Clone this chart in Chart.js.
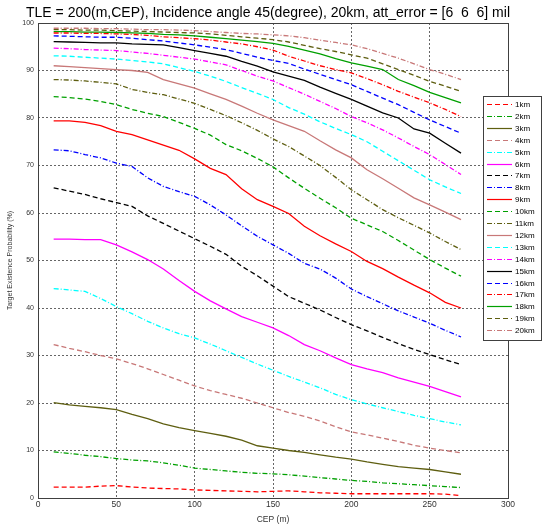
<!DOCTYPE html>
<html>
<head>
<meta charset="utf-8">
<script src="https://cdn.jsdelivr.net/npm/chart.js@4.4.0/dist/chart.umd.min.js"></script>
<style>
  html, body { margin: 0; padding: 0; background: #fff; }
  #wrap { width: 542px; height: 526px; }
</style>
</head>
<body>
<div id="wrap"><canvas id="chart" width="542" height="526"></canvas></div>
<script>
// Заголовок и оси
const titleText = 'TLE = 200(m,CEP), Incidence angle 45(degree), 20km, att_error = [6  6  6] mil';
const xTitle = 'CEP (m)';
const yTitle = 'Target Existence Probability (%)';
const xTicks = [0, 50, 100, 150, 200, 250, 300];
const yTicks = [0, 10, 20, 30, 40, 50, 60, 70, 80, 90, 100];

// Значения CEP (м)
const cep = [10, 20, 30, 40, 50, 60, 70, 80, 90, 100, 110, 120, 130, 140, 150, 160, 170, 180, 190, 200, 210, 220, 230, 240, 250, 260, 270];

// Вероятности по дальностям (%)
const p1km  = [2.3, 2.3, 2.3, 2.5, 2.6, 2.3, 2.1, 2.0, 1.9, 1.7, 1.6, 1.5, 1.4, 1.3, 1.4, 1.5, 1.3, 1.1, 1.0, 0.9, 0.9, 0.9, 0.9, 0.9, 0.9, 0.8, 0.5];
const p2km  = [9.7, 9.4, 9.0, 8.7, 8.3, 8.0, 7.8, 7.4, 6.9, 6.3, 6.0, 5.7, 5.4, 5.2, 5.1, 4.9, 4.6, 4.3, 4.0, 3.7, 3.5, 3.2, 3.0, 2.8, 2.6, 2.4, 2.2];
const p3km  = [20.1, 19.6, 19.3, 19.0, 18.6, 17.6, 16.7, 15.6, 14.8, 14.2, 13.6, 13.0, 12.2, 11.0, 10.5, 10.0, 9.6, 9.1, 8.6, 8.2, 7.6, 7.1, 6.6, 6.3, 6.0, 5.5, 5.0];
const p4km  = [32.3, 31.5, 30.8, 30.0, 29.3, 28.3, 27.2, 26.0, 24.8, 23.6, 22.6, 21.8, 21.0, 20.0, 19.0, 18.0, 17.2, 16.2, 15.0, 13.9, 13.3, 12.6, 11.9, 11.1, 10.5, 10.0, 9.5];
const p5km  = [44.1, 43.8, 43.5, 42.0, 40.3, 38.8, 37.2, 35.8, 34.6, 33.7, 32.4, 31.0, 29.6, 28.2, 26.9, 25.6, 24.4, 23.2, 21.8, 20.7, 19.8, 19.0, 18.2, 17.4, 16.7, 16.0, 15.4];
const p6km  = [54.5, 54.5, 54.4, 54.4, 53.3, 51.8, 50.2, 48.2, 45.8, 43.5, 41.5, 39.8, 38.2, 37.0, 35.8, 34.2, 32.3, 31.0, 29.5, 28.1, 27.2, 26.4, 25.3, 24.4, 23.5, 22.4, 21.3];
const p7km  = [65.3, 64.6, 63.9, 63.0, 62.2, 61.4, 59.4, 57.8, 56.2, 54.6, 53.0, 51.3, 48.8, 46.8, 44.6, 42.4, 41.0, 39.6, 38.0, 36.5, 35.2, 33.8, 32.5, 31.3, 30.2, 29.1, 28.1];
const p8km  = [73.3, 73.1, 72.3, 71.6, 70.5, 69.8, 67.4, 65.6, 64.5, 63.5, 61.7, 59.6, 57.3, 55.1, 53.3, 51.5, 49.4, 48.2, 46.3, 44.0, 42.4, 40.9, 39.4, 38.1, 36.8, 35.3, 33.9];
const p9km  = [79.4, 79.4, 79.1, 78.4, 77.2, 76.5, 75.4, 74.3, 73.2, 71.4, 69.4, 68.1, 65.1, 62.8, 61.4, 59.9, 57.2, 55.2, 53.5, 51.9, 49.8, 48.3, 46.5, 44.8, 43.2, 41.2, 40.0];
const p10km = [84.5, 84.3, 84.0, 83.5, 82.8, 81.8, 81.0, 80.3, 79.1, 77.8, 76.4, 74.4, 73.1, 71.5, 69.7, 67.4, 65.2, 63.1, 61.1, 58.9, 57.5, 56.1, 54.2, 52.2, 50.2, 48.4, 46.7];
const p11km = [88.1, 88.0, 87.8, 87.5, 87.2, 86.0, 85.4, 84.9, 84.0, 83.1, 81.8, 80.5, 79.0, 77.4, 75.6, 74.0, 72.0, 70.0, 67.5, 64.9, 62.8, 60.7, 59.0, 57.4, 55.8, 54.0, 52.3];
const p12km = [91.0, 90.8, 90.6, 90.4, 90.2, 90.0, 89.6, 88.1, 87.2, 86.3, 85.1, 83.9, 82.5, 81.0, 79.6, 78.4, 77.2, 75.2, 73.3, 71.6, 69.1, 67.2, 65.2, 63.2, 61.7, 60.2, 58.6];
const p13km = [93.1, 93.0, 92.8, 92.6, 92.4, 92.1, 91.8, 91.4, 90.6, 89.8, 88.8, 87.7, 86.4, 85.2, 83.9, 82.2, 80.8, 79.2, 77.8, 76.5, 75.0, 73.0, 71.0, 69.0, 67.0, 65.5, 64.1];
const p14km = [94.7, 94.6, 94.4, 94.3, 94.2, 93.9, 93.6, 93.2, 92.8, 92.4, 91.8, 91.2, 90.0, 88.8, 87.8, 86.4, 85.0, 83.5, 82.0, 80.3, 79.0, 77.5, 75.8, 74.0, 72.3, 70.2, 68.1];
const p15km = [96.1, 96.0, 95.9, 95.8, 95.8, 95.6, 95.5, 95.4, 94.8, 94.2, 93.6, 93.0, 91.9, 90.9, 89.7, 88.8, 87.9, 86.5, 85.2, 83.9, 82.5, 81.1, 80.0, 77.7, 76.8, 74.7, 72.6];
const p16km = [97.3, 97.2, 97.1, 97.0, 97.0, 96.8, 96.5, 96.2, 95.8, 95.4, 94.9, 94.4, 93.6, 92.8, 92.1, 91.5, 90.3, 89.2, 88.1, 87.0, 85.6, 84.2, 82.8, 81.2, 79.6, 78.2, 76.8];
const p17km = [97.9, 97.9, 97.8, 97.8, 97.7, 97.6, 97.4, 97.1, 96.9, 96.7, 96.4, 96.0, 95.6, 95.0, 94.3, 93.0, 92.0, 91.0, 90.2, 89.5, 88.3, 87.0, 85.6, 84.4, 83.2, 81.8, 80.3];
const p18km = [98.2, 98.2, 98.1, 98.1, 98.0, 97.9, 97.8, 97.6, 97.5, 97.3, 97.0, 96.7, 96.4, 96.1, 95.7, 95.1, 94.3, 93.5, 92.5, 91.6, 90.9, 90.2, 88.1, 86.8, 85.4, 84.3, 83.2];
const p19km = [98.6, 98.6, 98.5, 98.5, 98.4, 98.3, 98.2, 98.1, 98.0, 97.9, 97.7, 97.4, 97.1, 96.8, 96.5, 96.0, 95.3, 94.6, 94.0, 93.3, 92.6, 91.4, 90.2, 89.0, 87.7, 86.7, 85.6];
const p20km = [98.9, 98.9, 98.9, 98.8, 98.8, 98.7, 98.6, 98.6, 98.5, 98.4, 98.2, 98.0, 97.8, 97.7, 97.5, 97.3, 96.9, 96.4, 95.9, 95.4, 94.6, 93.6, 92.6, 91.4, 90.2, 89.2, 88.1];

const seriesLabels = ['1km', '2km', '3km', '4km', '5km', '6km', '7km', '8km', '9km', '10km',
                      '11km', '12km', '13km', '14km', '15km', '16km', '17km', '18km', '19km', '20km'];
const seriesValues = [p1km, p2km, p3km, p4km, p5km, p6km, p7km, p8km, p9km, p10km,
                      p11km, p12km, p13km, p14km, p15km, p16km, p17km, p18km, p19km, p20km];

// Стили в духе MATLAB: цвета и типы линий циклически
const palette = ['#ff0000', '#00a000', '#5e5e10', '#c87878', '#00ffff', '#ff00ff', '#000000', '#0000ff'];
const dashes = [[5, 3], [5, 2, 1, 2], []];

const datasets = seriesLabels.map((label, i) => ({
    label: label,
    data: cep.map((x, j) => ({ x: x, y: seriesValues[i][j] })),
    borderColor: palette[i % palette.length],
    borderDash: dashes[i % dashes.length],
    borderWidth: 1.3,
    pointRadius: 0,
    fill: false,
    tension: 0
}));

// Рамка, заголовок и легенда поверх графика
const framePlugin = {
    id: 'framePlugin',
    afterDraw(chart) {
        const ctx = chart.ctx;
        const a = chart.chartArea;
        ctx.save();
        ctx.setLineDash([]);
        ctx.strokeStyle = '#404040';
        ctx.lineWidth = 1;
        ctx.strokeRect(Math.round(a.left) + 0.5, Math.round(a.top) + 0.5,
                       Math.round(a.right - a.left), Math.round(a.bottom - a.top));

        ctx.fillStyle = '#000';
        ctx.font = '14px "Liberation Sans", Arial, sans-serif';
        ctx.textAlign = 'center';
        ctx.textBaseline = 'middle';
        ctx.fillText(titleText, 268, 13);

        // легенда
        const lx = 483, ly = 96, lw = 58, lh = 244;
        ctx.fillStyle = '#fff';
        ctx.fillRect(lx, ly, lw, lh);
        ctx.strokeStyle = '#404040';
        ctx.strokeRect(lx + 0.5, ly + 0.5, lw, lh);
        ctx.font = '8px "Liberation Sans", Arial, sans-serif';
        ctx.textAlign = 'left';
        chart.data.datasets.forEach((ds, i) => {
            const y = Math.round(104 + i * 11.9) + 0.5;
            ctx.strokeStyle = ds.borderColor;
            ctx.lineWidth = 1.2;
            ctx.setLineDash(ds.borderDash);
            ctx.beginPath();
            ctx.moveTo(487, y);
            ctx.lineTo(512, y);
            ctx.stroke();
            ctx.fillStyle = '#000';
            ctx.fillText(ds.label, 515, y);
        });
        ctx.restore();
    }
};

const edgeColor = (min, max) => (c) =>
    (c.tick && (c.tick.value === min || c.tick.value === max)) ? 'rgba(0,0,0,0)' : '#666';

new Chart(document.getElementById('chart'), {
    type: 'line',
    data: { datasets: datasets },
    options: {
        responsive: false,
        animation: false,
        devicePixelRatio: 1,
        layout: { padding: { top: 23, right: 34, left: 0, bottom: 0 } },
        plugins: { legend: { display: false }, tooltip: { enabled: false } },
        scales: {
            x: {
                type: 'linear',
                min: 0, max: 300,
                afterBuildTicks: (s) => { s.ticks = xTicks.map(v => ({ value: v })); },
                afterFit: (s) => { s.height = 28; },
                grid: { color: edgeColor(0, 300), lineWidth: 1, drawTicks: false },
                border: { display: false, dash: [2, 2] },
                ticks: { color: '#333', font: { size: 8.5, family: '"Liberation Sans", Arial' }, padding: 2, maxRotation: 0 },
                title: { display: true, text: xTitle, color: '#333', font: { size: 8.5, family: '"Liberation Sans", Arial' }, padding: { top: 0, bottom: 1 } }
            },
            y: {
                min: 0, max: 100,
                afterBuildTicks: (s) => { s.ticks = yTicks.map(v => ({ value: v })); },
                afterFit: (s) => { s.width = 38; },
                grid: { color: edgeColor(0, 100), lineWidth: 1, drawTicks: false },
                border: { display: false, dash: [2, 2] },
                ticks: { color: '#333', font: { size: 7, family: '"Liberation Sans", Arial' }, padding: 4 },
                title: { display: true, text: yTitle, color: '#333', font: { size: 7, family: '"Liberation Sans", Arial' }, padding: { top: 6, bottom: 0 } }
            }
        }
    },
    plugins: [framePlugin]
});
</script>
</body>
</html>
